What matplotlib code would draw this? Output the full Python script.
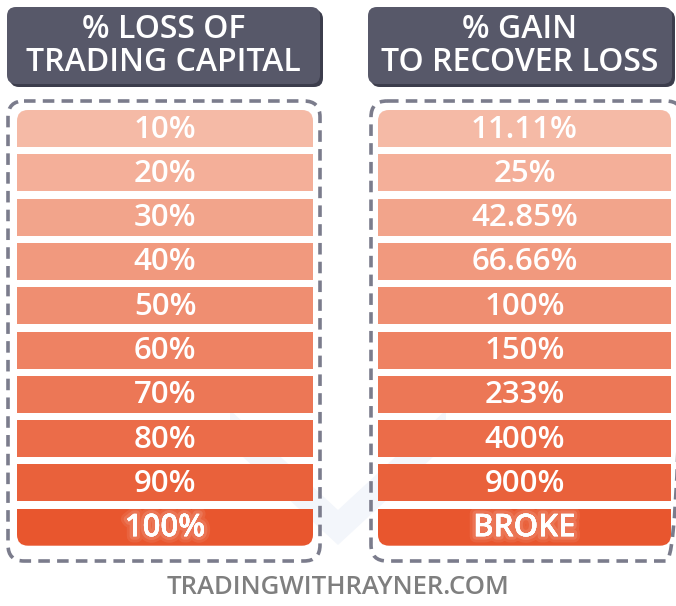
import numpy as np
import matplotlib.pyplot as plt
from matplotlib.patches import FancyBboxPatch, Rectangle, Polygon
import matplotlib.patheffects as pe

# Table contents
loss_labels = ['10%', '20%', '30%', '40%', '50%', '60%', '70%', '80%', '90%', '100%']
gain_labels = ['11.11%', '25%', '42.85%', '66.66%', '100%', '150%', '233%', '400%', '900%', 'BROKE']
headers = ['% LOSS OF\nTRADING CAPITAL', '% GAIN\nTO RECOVER LOSS']
footer = 'TRADINGWITHRAYNER.COM'

W, H = 676, 606
fig = plt.figure(figsize=(W / 100, H / 100), dpi=100)
ax = fig.add_axes([0, 0, 1, 1])
ax.set_xlim(0, W)
ax.set_ylim(H, 0)
ax.axis('off')

plt.rcParams['font.family'] = ['Open Sans', 'DejaVu Sans']

top_col = np.array([245, 186, 166]) / 255
bot_col = np.array([232, 86, 46]) / 255

# faint watermark chevron behind the table
ax.add_patch(Polygon([(230, 410), (338, 510), (446, 410), (446, 445),
                      (338, 545), (230, 445)], closed=True,
                     fc='#f3f6fb', ec='none', zorder=0))

# columns: (header x0, x1), (dash x0, x1), (rows x0, x1)
cols = [((7, 320), (8, 320), (17, 313)),
        ((368, 672), (371, 682), (378, 671))]

row_top, pitch, row_h = 110, 44.3, 37

for (hx, dx, rx), head, labels in zip(cols, headers, [loss_labels, gain_labels]):
    # header with shadow
    ax.add_patch(FancyBboxPatch((hx[0] + 3, 10), hx[1] - hx[0], 77,
                                boxstyle='round,pad=0,rounding_size=9',
                                fc='#3c3d4c', ec='none'))
    ax.add_patch(FancyBboxPatch((hx[0], 7), hx[1] - hx[0], 77,
                                boxstyle='round,pad=0,rounding_size=9',
                                fc='#575869', ec='none'))
    ax.text((hx[0] + hx[1]) / 2, 46, head, color='white', fontsize=23,
            ha='center', va='center', linespacing=0.98, fontweight='semibold')

    # dashed container
    ax.add_patch(FancyBboxPatch((dx[0], 101), dx[1] - dx[0], 460,
                                boxstyle='round,pad=0,rounding_size=16',
                                fc='none', ec='#7b7c8c', lw=2.6,
                                linestyle=(0, (3.2, 2.0))))

    # clip shape for rows
    n = len(labels)
    clip = FancyBboxPatch((rx[0], row_top), rx[1] - rx[0],
                          (n - 1) * pitch + row_h,
                          boxstyle='round,pad=0,rounding_size=11',
                          fc='none', ec='none')
    ax.add_patch(clip)
    for i, lab in enumerate(labels):
        t = i / (n - 1)
        c = top_col + (bot_col - top_col) * t
        y0 = row_top + i * pitch
        r = Rectangle((rx[0], y0), rx[1] - rx[0], row_h, fc=c, ec='none')
        ax.add_patch(r)
        r.set_clip_path(clip)
        txt = ax.text((rx[0] + rx[1]) / 2, y0 + row_h / 2 + 1, lab,
                      color='white', fontsize=22.5, ha='center', va='center',
                      fontweight='semibold')
        if i == n - 1:
            txt.set_path_effects([pe.withStroke(linewidth=9, foreground=(1, 1, 1, 0.08)),
                                  pe.withStroke(linewidth=5, foreground=(1, 1, 1, 0.12)),
                                  pe.Normal()])

ax.text(W / 2, 588, footer, color='#7f7f7f', fontsize=18.5, ha='center',
        va='center', fontweight='semibold')

fig.savefig('out.png', dpi=100)
